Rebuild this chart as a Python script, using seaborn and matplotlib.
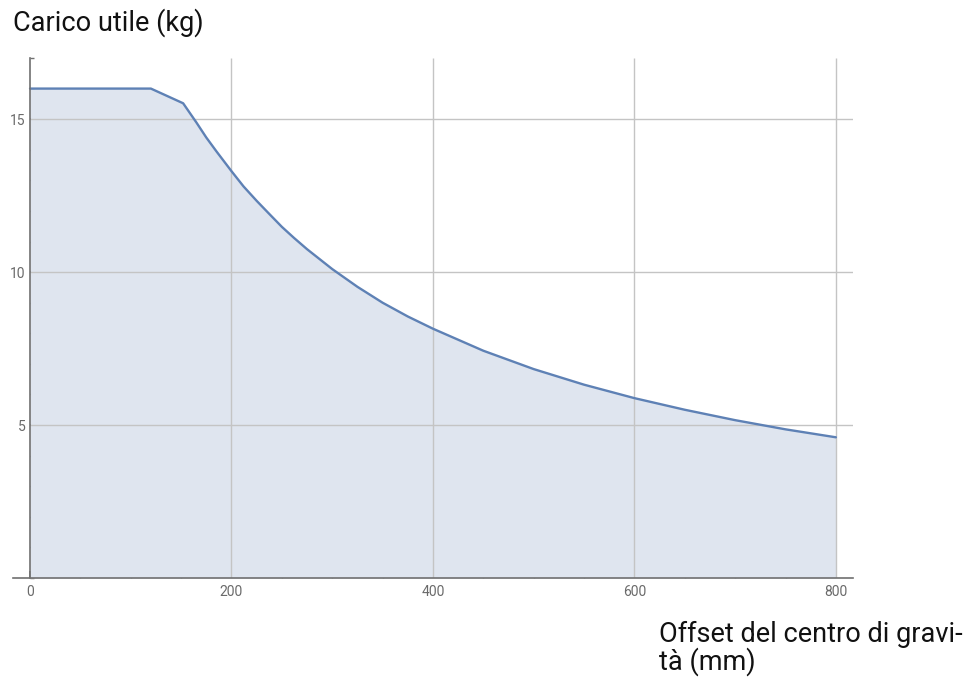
import matplotlib
matplotlib.use("Agg")
import matplotlib.pyplot as plt
import seaborn as sns
import pandas as pd
from matplotlib.ticker import MultipleLocator

# Data
offset_mm = [0, 120, 152, 165, 175, 185, 200, 212, 225, 237, 250, 262, 275,
             300, 325, 350, 375, 400, 450, 500, 550, 600, 650, 700, 750, 800]
payload_kg = [16.0, 16.0, 15.52, 14.9, 14.4, 13.95, 13.3, 12.8, 12.33, 11.92,
              11.48, 11.12, 10.75, 10.1, 9.52, 9.0, 8.55, 8.15, 7.43, 6.83,
              6.32, 5.88, 5.5, 5.16, 4.86, 4.6]
x_ticks = [0, 200, 400, 600, 800]
y_ticks = [5, 10, 15]
y_label = "Carico utile (kg)"
x_label_lines = ["Offset del centro di gravi-", "tà (mm)"]

df = pd.DataFrame({"offset": offset_mm, "payload": payload_kg})

sns.set_theme(style="white")
plt.rcParams["font.family"] = ["Roboto", "DejaVu Sans"]

line_color = "#5E81B5"
fill_color = "#DFE5EF"
axis_color = "#707070"
grid_color = "#C4C4C4"

fig = plt.figure(figsize=(9.67, 6.77), dpi=100)
ax = fig.add_axes([13 / 967, (677 - 578) / 677, (853 - 13) / 967, (578 - 58) / 677])

ax.fill_between(df["offset"], 0, df["payload"], color=fill_color, linewidth=0, zorder=1)
sns.lineplot(data=df, x="offset", y="payload", ax=ax, color=line_color,
             linewidth=1.7, zorder=3)

ax.set_xlim(-16.9, 817)
ax.set_ylim(0, 17)

ax.set_xticks(x_ticks)
ax.set_yticks(y_ticks)
ax.xaxis.set_minor_locator(MultipleLocator(50))
ax.yaxis.set_minor_locator(MultipleLocator(1))

ax.vlines(x_ticks[1:], 0, 17, color=grid_color, linewidth=1.0, zorder=2)
ax.hlines(y_ticks, 0, 817, color=grid_color, linewidth=1.0, zorder=2)

for s in ["top", "right"]:
    ax.spines[s].set_visible(False)
ax.spines["left"].set_position(("data", 0))
ax.spines["bottom"].set_position(("data", 0))
for s in ["left", "bottom"]:
    ax.spines[s].set_color(axis_color)
    ax.spines[s].set_linewidth(1.2)
    ax.spines[s].set_zorder(4)

ax.tick_params(axis="both", which="both", bottom=True, left=True, top=False, right=False)
ax.tick_params(axis="both", which="major", direction="in", length=5, width=1.2,
               color=axis_color, labelcolor="#6a6a6a", labelsize=10, pad=5)
ax.tick_params(axis="both", which="minor", direction="in", length=3, width=1.0,
               color=axis_color)
ax.tick_params(axis="y", which="major", pad=3)
ax.set_xlabel("")
ax.set_ylabel("")
ax.grid(False)

fig.text(13 / 967, 1 - 31 / 677, y_label, fontsize=19.5, color="#111111",
         ha="left", va="baseline")
fig.text(659 / 967, 1 - 642 / 677, x_label_lines[0], fontsize=19.5, color="#111111",
         ha="left", va="baseline")
fig.text(659 / 967, 1 - 670 / 677, x_label_lines[1], fontsize=19.5, color="#111111",
         ha="left", va="baseline")

fig.savefig("out.png", dpi=100)
